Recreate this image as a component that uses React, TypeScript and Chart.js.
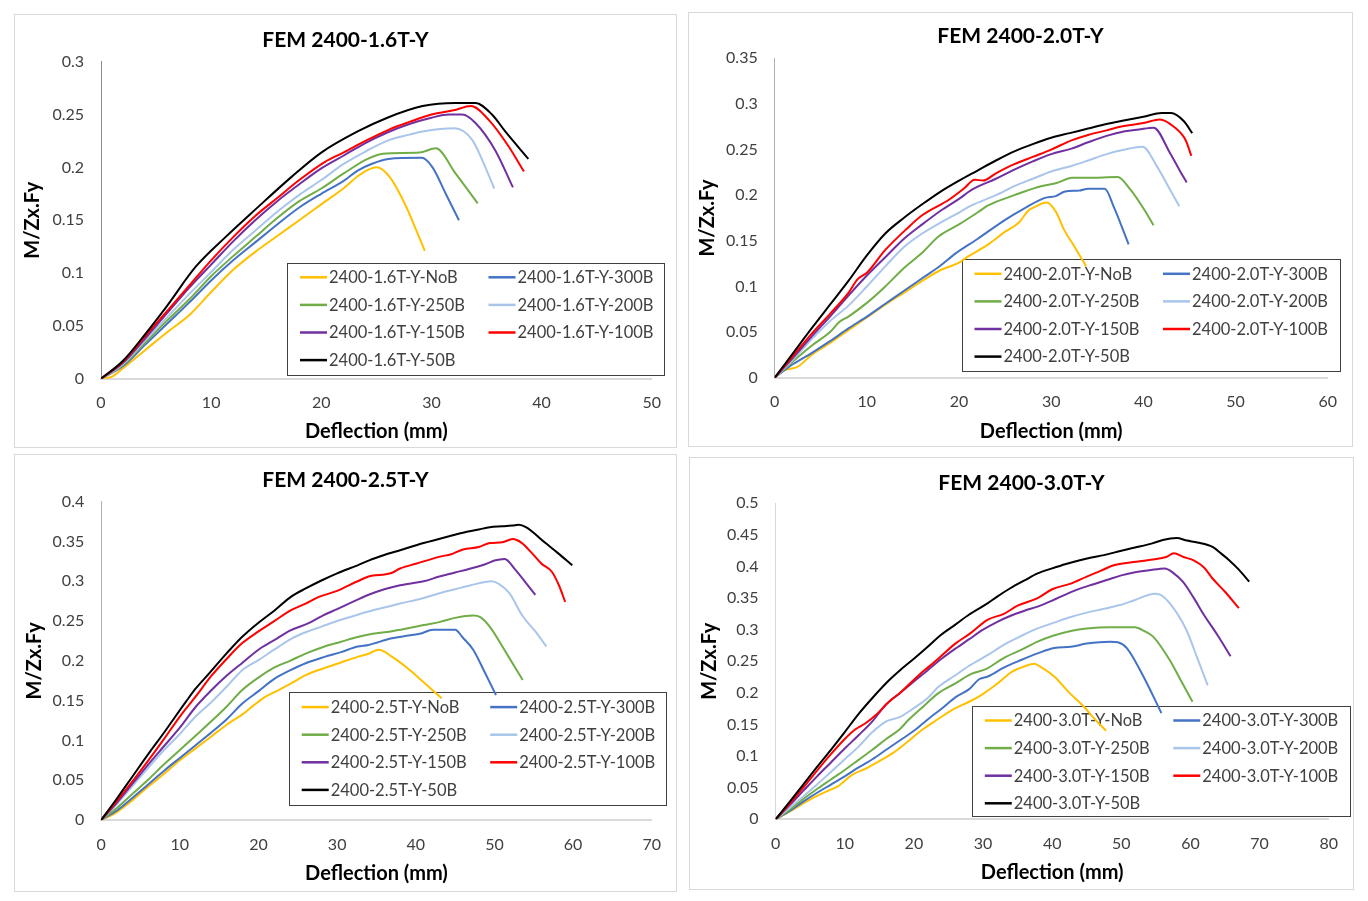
import { useEffect, useRef } from "react";
import { Chart, registerables } from "chart.js";

Chart.register(...registerables);
Chart.defaults.font.family = "Lato";

type Pt = [number, number];

// series order as in the legends
const suffixes = ["NoB", "300B", "250B", "200B", "150B", "100B", "50B"];
const lineColors = ["#FFC000", "#4472C4", "#70AD47", "#A9C6EA", "#7030A0", "#FF0000", "#000000"];

// ---- FEM 2400-1.6T-Y ----
const t16NoB: Pt[] = [[0,0],[1,0.002],[2,0.01],[4,0.027],[6,0.044],[8,0.06],[10,0.082],[12,0.103],[14,0.12],[16,0.135],[18,0.15],[20,0.165],[22,0.18],[23.5,0.193],[25,0.2],[26.2,0.191],[27.7,0.163],[28.6,0.141],[29.4,0.121]];
const t16B300: Pt[] = [[0,0],[2,0.012],[4,0.032],[6,0.052],[8,0.072],[10,0.093],[12,0.112],[14,0.129],[16,0.146],[18,0.162],[20,0.175],[22,0.187],[23.3,0.197],[24.5,0.203],[26.1,0.208],[29.1,0.209],[30.1,0.2],[31.3,0.175],[32.5,0.15]];
const t16B250: Pt[] = [[0,0],[2,0.013],[4,0.034],[6,0.055],[8,0.075],[10,0.097],[12,0.116],[14,0.134],[16,0.152],[18,0.168],[20,0.18],[22,0.194],[24.2,0.208],[25.6,0.213],[28.9,0.214],[30.4,0.218],[32.2,0.194],[34.2,0.166]];
const t16B200: Pt[] = [[0,0],[2,0.014],[4,0.036],[6,0.058],[8,0.08],[10,0.101],[12,0.122],[14,0.14],[16,0.158],[18,0.174],[20,0.188],[22,0.203],[24,0.215],[26.2,0.226],[28,0.231],[29.2,0.234],[32.1,0.237],[33.7,0.226],[34.9,0.2],[35.7,0.18]];
const t16B150: Pt[] = [[0,0],[2,0.015],[4,0.038],[6,0.062],[8,0.086],[10,0.108],[12,0.13],[14,0.15],[16,0.168],[18,0.184],[20,0.199],[22,0.211],[24,0.223],[26,0.233],[28,0.241],[30,0.247],[31.6,0.25],[32.8,0.25],[34,0.242],[35.8,0.216],[37.4,0.181]];
const t16B100: Pt[] = [[0,0],[2,0.016],[4,0.04],[6,0.064],[8,0.088],[10,0.112],[12,0.134],[14,0.154],[16,0.171],[18,0.188],[20.3,0.205],[22,0.214],[24,0.225],[26.2,0.236],[28,0.243],[30,0.25],[32,0.254],[33.6,0.258],[35.2,0.245],[37,0.22],[38.4,0.196]];
const t16B50: Pt[] = [[0,0],[2,0.017],[4,0.042],[6,0.069],[8.6,0.106],[11.3,0.134],[14,0.16],[17.3,0.191],[20,0.214],[23.3,0.234],[26,0.247],[29.2,0.258],[32.2,0.261],[34,0.261],[35.5,0.25],[36.7,0.234],[38.8,0.208]];

// ---- FEM 2400-2.0T-Y ----
const t20NoB: Pt[] = [[0,0],[1,0.008],[2.5,0.012],[4,0.025],[6,0.038],[8,0.052],[10,0.066],[12,0.08],[14,0.093],[16,0.106],[18,0.118],[20,0.126],[21,0.133],[23,0.145],[25,0.16],[26.5,0.17],[27.5,0.183],[28.2,0.187],[29.5,0.192],[30.5,0.182],[31.4,0.162],[32.5,0.144],[33.8,0.122]];
const t20B300: Pt[] = [[0,0],[2,0.015],[4,0.027],[6,0.04],[8,0.054],[10,0.067],[12,0.081],[14,0.095],[16,0.109],[18,0.123],[19.6,0.136],[22,0.152],[25,0.173],[27,0.185],[29.3,0.197],[30.5,0.199],[31.5,0.204],[33,0.205],[34,0.207],[35.8,0.207],[36.8,0.187],[38.4,0.146]];
const t20B250: Pt[] = [[0,0],[2,0.018],[4,0.035],[6,0.05],[7,0.061],[8,0.067],[10,0.082],[12,0.1],[14,0.12],[16,0.137],[17.8,0.155],[20,0.168],[22,0.181],[23.2,0.189],[26,0.2],[28.6,0.209],[30.5,0.213],[32.3,0.219],[34,0.219],[37.2,0.22],[38.6,0.206],[40.1,0.184],[41.1,0.167]];
const t20B200: Pt[] = [[0,0],[2,0.02],[4,0.042],[6,0.062],[8,0.079],[10,0.1],[12,0.122],[14,0.143],[16,0.158],[18,0.17],[20,0.181],[21.4,0.189],[24,0.2],[26,0.21],[28,0.218],[30,0.226],[32.2,0.232],[34,0.238],[36,0.245],[38,0.25],[39.9,0.253],[41.5,0.231],[42.9,0.206],[43.9,0.188]];
const t20B150: Pt[] = [[0,0],[2,0.022],[4,0.045],[6,0.067],[8,0.09],[10,0.112],[12,0.132],[14,0.152],[16,0.168],[18,0.183],[20,0.196],[21.4,0.206],[24,0.218],[26,0.228],[28,0.237],[30,0.245],[32.2,0.251],[34,0.258],[36,0.265],[38,0.27],[39.5,0.272],[41.1,0.274],[42.9,0.246],[44,0.226],[44.7,0.214]];
const t20B100: Pt[] = [[0,0],[2,0.024],[4,0.048],[6,0.07],[8,0.093],[9,0.108],[10,0.115],[12,0.14],[14.2,0.162],[16,0.178],[18.9,0.195],[20.5,0.207],[21.7,0.217],[22.6,0.216],[24,0.224],[26,0.234],[28,0.242],[30,0.25],[32.2,0.26],[34,0.266],[36,0.271],[37.5,0.275],[40,0.279],[41.8,0.283],[43.3,0.275],[44.6,0.26],[45.2,0.243]];
const t20B50: Pt[] = [[0,0],[2,0.027],[4,0.054],[6,0.08],[8,0.106],[10,0.134],[12,0.158],[14,0.175],[16,0.19],[18,0.204],[20,0.216],[22,0.227],[24,0.238],[26,0.248],[28,0.256],[30,0.263],[32,0.268],[34,0.273],[36,0.278],[38,0.282],[40,0.286],[42,0.29],[43,0.29],[44.4,0.281],[45.3,0.268]];

// ---- FEM 2400-2.5T-Y ----
const t25NoB: Pt[] = [[0,0],[2,0.01],[4,0.025],[6,0.042],[8,0.058],[10,0.075],[12,0.09],[14,0.105],[16,0.12],[18,0.133],[19.5,0.145],[20.9,0.155],[22.5,0.163],[24.2,0.172],[26,0.182],[28.4,0.191],[30.5,0.198],[32.6,0.205],[34,0.209],[35.3,0.214],[37,0.205],[39.3,0.188],[41,0.173],[43.3,0.153]];
const t25B300: Pt[] = [[0,0],[2,0.012],[4,0.028],[6,0.045],[8,0.062],[10,0.078],[12,0.094],[14,0.11],[16,0.127],[17.9,0.146],[20,0.162],[22.1,0.178],[24,0.188],[26,0.197],[28.4,0.205],[30.5,0.211],[32.6,0.218],[34,0.22],[36.8,0.228],[38.5,0.231],[40.5,0.234],[42.2,0.239],[45,0.239],[46,0.229],[47.3,0.214],[48.8,0.185],[50.2,0.157]];
const t25B250: Pt[] = [[0,0],[2,0.015],[4,0.033],[6,0.051],[8,0.07],[10,0.088],[12,0.106],[14,0.124],[16,0.143],[17.9,0.163],[20,0.179],[22.1,0.192],[24,0.2],[26,0.209],[28.4,0.218],[30.5,0.224],[32.6,0.23],[34.5,0.234],[36.8,0.237],[39,0.241],[41,0.245],[43.1,0.249],[45,0.254],[47.3,0.257],[48.2,0.255],[49.4,0.243],[51.5,0.21],[53.6,0.176]];
const t25B200: Pt[] = [[0,0],[2,0.02],[4,0.043],[6,0.066],[8,0.088],[10,0.108],[12,0.13],[14,0.148],[16,0.168],[17.9,0.188],[20,0.201],[22,0.214],[24.2,0.228],[26,0.236],[28,0.243],[30,0.25],[32.6,0.258],[34,0.262],[36,0.267],[38,0.272],[41,0.279],[43,0.285],[45,0.29],[47,0.295],[49.6,0.3],[50.5,0.297],[51.9,0.285],[53.6,0.256],[55.2,0.237],[56.6,0.218]];
const t25B150: Pt[] = [[0,0],[2,0.022],[4,0.046],[6,0.07],[8,0.093],[10,0.116],[12,0.142],[14,0.163],[15.8,0.18],[18,0.198],[20,0.214],[22,0.226],[24,0.238],[26.3,0.247],[28,0.256],[30,0.265],[32.6,0.277],[34,0.283],[36,0.29],[38,0.295],[41,0.3],[43,0.306],[45,0.311],[47.7,0.318],[49,0.322],[50,0.326],[51.3,0.328],[52.7,0.314],[54,0.298],[55.2,0.283]];
const t25B100: Pt[] = [[0,0],[2,0.024],[4,0.049],[6,0.075],[8,0.102],[10,0.13],[12,0.155],[14,0.181],[16,0.203],[17.9,0.222],[20,0.237],[22,0.25],[24.2,0.264],[26,0.272],[27.6,0.28],[30,0.288],[32.6,0.3],[34,0.306],[36.8,0.31],[38,0.316],[40,0.322],[43.1,0.331],[44.5,0.334],[46,0.34],[48,0.343],[49.4,0.348],[51,0.349],[52.3,0.353],[53.5,0.348],[54.8,0.335],[56,0.322],[57.3,0.312],[58.2,0.295],[59,0.274]];
const t25B50: Pt[] = [[0,0],[2,0.027],[4,0.055],[6,0.083],[8,0.11],[10.8,0.149],[12,0.165],[13.7,0.184],[16,0.21],[17.9,0.23],[20,0.248],[22,0.263],[24.2,0.281],[26,0.291],[28,0.301],[30,0.31],[32.6,0.32],[34,0.326],[36,0.333],[38,0.339],[41,0.348],[44,0.356],[46,0.361],[48,0.365],[49.4,0.368],[51,0.369],[52.3,0.37],[53.1,0.371],[54,0.368],[56.5,0.348],[58,0.336],[59.9,0.32]];

// ---- FEM 2400-3.0T-Y ----
const t30NoB: Pt[] = [[0,0],[2,0.012],[4,0.025],[6,0.037],[8,0.047],[9,0.052],[11,0.07],[13,0.08],[15,0.092],[17,0.105],[19,0.122],[21,0.14],[23,0.155],[26,0.176],[28,0.186],[29.8,0.197],[32,0.214],[34.1,0.233],[36,0.242],[37.4,0.246],[38.5,0.24],[40.3,0.226],[42.5,0.2],[44.6,0.178],[46.2,0.158],[47.8,0.14]];
const t30B300: Pt[] = [[0,0],[2,0.013],[4,0.028],[6,0.042],[8,0.055],[10,0.068],[12,0.082],[14,0.095],[16,0.11],[18,0.125],[20,0.14],[22,0.158],[24,0.175],[26,0.193],[28,0.206],[29.5,0.222],[30.7,0.226],[33,0.24],[35.5,0.252],[38,0.263],[40.3,0.271],[42.7,0.273],[45,0.278],[48.4,0.281],[49.5,0.28],[50.8,0.271],[53.2,0.226],[55.8,0.168]];
const t30B250: Pt[] = [[0,0],[2,0.015],[4,0.032],[6,0.048],[8,0.063],[10,0.078],[12,0.094],[14,0.11],[16,0.127],[18,0.143],[19.2,0.157],[21,0.175],[23.6,0.2],[26,0.215],[28.3,0.23],[30.5,0.238],[33.1,0.256],[35.5,0.268],[37.9,0.281],[40,0.29],[42.7,0.298],[45,0.302],[48.4,0.304],[52,0.304],[53.3,0.298],[54.6,0.289],[57,0.252],[58.5,0.222],[60.3,0.186]];
const t30B200: Pt[] = [[0,0],[2,0.018],[4,0.036],[6,0.055],[8,0.075],[10,0.095],[12,0.115],[14,0.138],[16,0.155],[18,0.162],[20,0.176],[22,0.192],[23.6,0.21],[26,0.228],[28,0.243],[30.7,0.26],[33,0.276],[35.5,0.29],[37.9,0.302],[40,0.31],[42.7,0.32],[45,0.327],[47.5,0.333],[49.8,0.339],[52,0.347],[54.8,0.357],[55.7,0.355],[57,0.342],[59.4,0.3],[61,0.255],[62.5,0.212]];
const t30B150: Pt[] = [[0,0],[2,0.022],[4,0.045],[6,0.068],[8,0.09],[10,0.112],[12,0.133],[14,0.155],[16,0.182],[18,0.2],[20,0.218],[22,0.236],[24,0.254],[26,0.27],[28,0.285],[30,0.3],[32,0.312],[34,0.322],[36,0.33],[38,0.337],[40,0.346],[42,0.356],[44,0.365],[46,0.372],[48,0.379],[50,0.386],[52,0.391],[54,0.394],[56.3,0.397],[57.5,0.39],[58.9,0.376],[60.5,0.35],[61.8,0.326],[64,0.29],[65.8,0.258]];
const t30B100: Pt[] = [[0,0],[2,0.024],[4,0.05],[6,0.077],[8,0.103],[10,0.127],[11.5,0.142],[13,0.152],[14.5,0.165],[16.4,0.186],[18,0.2],[20.9,0.23],[22,0.24],[23.6,0.255],[26,0.278],[28,0.293],[30.7,0.316],[33,0.325],[35,0.338],[37.9,0.35],[40,0.364],[42.7,0.373],[45,0.384],[47,0.393],[48.9,0.402],[51,0.406],[54.6,0.411],[56.5,0.415],[57.6,0.421],[59,0.415],[60.4,0.41],[62,0.398],[63.2,0.381],[65,0.36],[67,0.334]];
const t30B50: Pt[] = [[0,0],[2,0.027],[4,0.055],[6,0.083],[8,0.11],[10,0.138],[12.1,0.168],[14,0.192],[16.4,0.22],[18,0.236],[20,0.254],[22,0.273],[23.6,0.289],[26,0.308],[28,0.324],[30.7,0.342],[32,0.352],[34,0.366],[36,0.378],[37.9,0.389],[40,0.397],[42,0.404],[44,0.41],[45.5,0.414],[47.5,0.418],[50,0.425],[52,0.43],[54.6,0.437],[56,0.442],[58,0.445],[59.5,0.441],[61,0.438],[63.2,0.431],[64.5,0.42],[65.6,0.41],[67,0.395],[68.5,0.376]];

// page layout of the four panels (absolute page px)
type Panel = {
  name: string;
  series: Pt[][];
  xMax: number;
  yMax: number;
  box: number[]; // l, t, r, b of the bordered frame
  area: number[]; // l, t, r, b of the plot area
  titleY: number;
  yTitleX: number;
  xTitleY: number;
  legend: number[]; // l, t, r, b
  yAxisColor: string;
};

const panels: Panel[] = [
  {
    name: "2400-1.6T-Y",
    series: [t16NoB, t16B300, t16B250, t16B200, t16B150, t16B100, t16B50],
    xMax: 50, yMax: 0.3,
    box: [14, 14, 677, 448], area: [101, 61.7, 658, 378.7],
    titleY: 40.7, yTitleX: 32.7, xTitleY: 431.7,
    legend: [287, 262.5, 664, 374], yAxisColor: "#8c8c8c",
  },
  {
    name: "2400-2.0T-Y",
    series: [t20NoB, t20B300, t20B250, t20B200, t20B150, t20B100, t20B50],
    xMax: 60, yMax: 0.35,
    box: [688, 12, 1353, 447], area: [774.7, 58.3, 1331.6, 377.7],
    titleY: 36.7, yTitleX: 708, xTitleY: 431.7,
    legend: [961.5, 259, 1339, 370.7], yAxisColor: "#b0b0b0",
  },
  {
    name: "2400-2.5T-Y",
    series: [t25NoB, t25B300, t25B250, t25B200, t25B150, t25B100, t25B50],
    xMax: 70, yMax: 0.4,
    box: [14, 454, 677, 892], area: [101.2, 501.7, 657.2, 820],
    titleY: 480.7, yTitleX: 35, xTitleY: 874,
    legend: [288.7, 692.3, 666, 805], yAxisColor: "#b0b0b0",
  },
  {
    name: "2400-3.0T-Y",
    series: [t30NoB, t30B300, t30B250, t30B200, t30B150, t30B100, t30B50],
    xMax: 80, yMax: 0.5,
    box: [689, 457, 1354, 890], area: [775.6, 503.3, 1333.8, 819.3],
    titleY: 483.3, yTitleX: 709.3, xTitleY: 872.7,
    legend: [971.8, 705.7, 1350, 816], yAxisColor: "#d9d9d9",
  },
];

const AXIS_TITLE_SIZE = 20;

function PanelChart({ p }: { p: Panel }) {
  const chartRef = useRef<HTMLCanvasElement>(null);
  const chartInstance = useRef<Chart | null>(null);

  const ox = p.box[0] + 1;
  const oy = p.box[1] + 1;
  const W = p.box[2] - p.box[0] - 2;
  const H = p.box[3] - p.box[1] - 2;

  useEffect(() => {
    if (!chartRef.current) return;
    if (chartInstance.current) chartInstance.current.destroy();

    const aL = p.area[0] - ox;
    const aT = p.area[1] - oy;
    const aR = p.area[2] - ox;
    const aB = p.area[3] - oy;
    const lh = AXIS_TITLE_SIZE * 1.2;
    const padLeft = p.yTitleX - ox - lh / 2;
    const yWidth = aL - padLeft;
    const xHeight = p.xTitleY - oy - aB + lh / 2;
    const padBottom = H - aB - xHeight;

    // chart title, drawn centred over the frame
    const panelTitle = {
      id: "panelTitle",
      afterDraw(chart: Chart) {
        const ctx = chart.ctx;
        ctx.save();
        ctx.font = "bold 21px Lato";
        ctx.fillStyle = "#000";
        ctx.textAlign = "center";
        ctx.textBaseline = "middle";
        ctx.fillText("FEM " + p.name, W / 2, p.titleY - oy);
        ctx.restore();
      },
    };

    // boxed two-column legend inside the plot, under the lines
    const boxLegend = {
      id: "boxLegend",
      beforeDatasetsDraw(chart: Chart) {
        const ctx = chart.ctx;
        const l = p.legend[0] - ox;
        const t = p.legend[1] - oy;
        const w = p.legend[2] - p.legend[0];
        const h = p.legend[3] - p.legend[1];
        ctx.save();
        ctx.strokeStyle = "#404040";
        ctx.lineWidth = 1;
        ctx.strokeRect(Math.round(l) + 0.5, Math.round(t) + 0.5, Math.round(w), Math.round(h));
        ctx.font = "16.5px Lato";
        ctx.textBaseline = "middle";
        ctx.fillStyle = "#404040";
        chart.data.datasets.forEach((ds, i) => {
          const col = i % 2;
          const row = Math.floor(i / 2);
          const x = l + (col ? 201.5 : 13);
          const y = t + 14.8 + row * 27.6;
          ctx.strokeStyle = ds.borderColor as string;
          ctx.lineWidth = 2.5;
          ctx.beginPath();
          ctx.moveTo(x, y);
          ctx.lineTo(x + 27, y);
          ctx.stroke();
          ctx.fillText(ds.label as string, x + 29, y + 0.5);
        });
        ctx.restore();
      },
    };

    const ctx = chartRef.current.getContext("2d");
    if (!ctx) return;

    chartInstance.current = new Chart(ctx, {
      type: "line",
      data: {
        datasets: p.series.map((pts, i) => ({
          label: `${p.name}-${suffixes[i]}`,
          data: pts.map(([x, y]) => ({ x, y })),
          borderColor: lineColors[i],
          backgroundColor: lineColors[i],
          borderWidth: 2,
          pointRadius: 0,
          fill: false,
          cubicInterpolationMode: "monotone" as const,
          order: suffixes.length - i, // later series on top, like the original
        })),
      },
      options: {
        responsive: false,
        animation: false,
        events: [],
        layout: {
          padding: { left: padLeft, top: aT, right: W - aR, bottom: padBottom },
        },
        plugins: {
          legend: { display: false },
          tooltip: { enabled: false },
          title: { display: false },
        },
        scales: {
          x: {
            type: "linear",
            min: 0,
            max: p.xMax,
            ticks: { stepSize: 10, color: "#404040", font: { size: 16 }, padding: 15 },
            grid: { display: false, drawTicks: false },
            border: { display: true, color: "#d9d9d9", width: 2 },
            title: {
              display: true,
              text: "Deflection (mm)",
              color: "#000",
              font: { size: AXIS_TITLE_SIZE, weight: "bold" },
              padding: 0,
            },
            afterFit: (s) => {
              s.height = xHeight;
            },
          },
          y: {
            type: "linear",
            min: 0,
            max: p.yMax,
            ticks: {
              stepSize: 0.05,
              color: "#404040",
              font: { size: 16 },
              padding: 17,
              callback: (v) => String(Number(Number(v).toFixed(2))),
            },
            grid: { display: false, drawTicks: false },
            border: { display: true, color: p.yAxisColor, width: 1 },
            title: {
              display: true,
              text: "M/Zx.Fy",
              color: "#000",
              font: { size: AXIS_TITLE_SIZE, weight: "bold" },
              padding: 0,
            },
            afterFit: (s) => {
              s.width = yWidth;
            },
          },
        },
      },
      plugins: [panelTitle, boxLegend],
    });

    return () => {
      if (chartInstance.current) {
        chartInstance.current.destroy();
        chartInstance.current = null;
      }
    };
  }, [p]);

  return (
    <div
      style={{
        position: "absolute",
        left: p.box[0],
        top: p.box[1],
        width: p.box[2] - p.box[0],
        height: p.box[3] - p.box[1],
        border: "1px solid #d9d9d9",
        boxSizing: "border-box",
        background: "#fff",
      }}
    >
      <canvas
        ref={chartRef}
        width={W}
        height={H}
        style={{ position: "absolute", left: 0, top: 0, width: W, height: H }}
      ></canvas>
    </div>
  );
}

export default function App() {
  return (
    <div style={{ position: "absolute", left: 0, top: 0, width: 1368, height: 901, background: "#fff" }}>
      {panels.map((p) => (
        <PanelChart key={p.name} p={p} />
      ))}
    </div>
  );
}
